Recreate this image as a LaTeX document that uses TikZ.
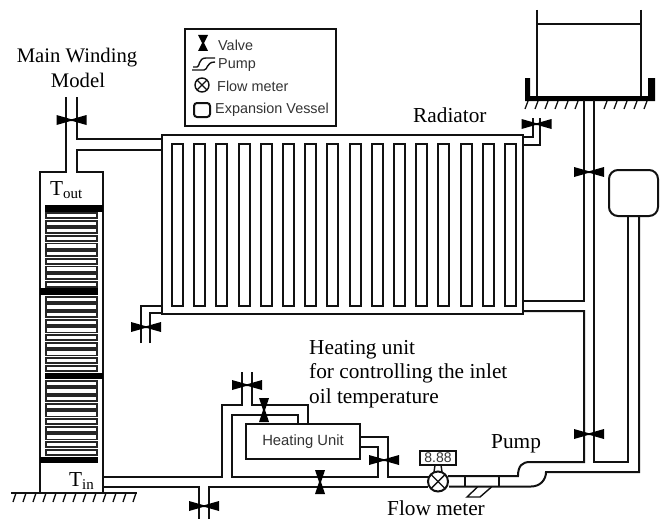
\documentclass[tikz,border=0pt]{standalone}
\usepackage{fontspec}
\setmainfont{Liberation Serif}
\setsansfont{Liberation Sans}
\usepackage{xcolor}
\usetikzlibrary{positioning}
\definecolor{pipecol}{HTML}{111111}
\definecolor{legendcol}{HTML}{333333}
\tikzset{
  pipe/.style={draw=pipecol, line width=2pt, line join=miter},
  thinpipe/.style={draw=pipecol, line width=1.4pt},
  bar/.style={fill=black, draw=none},
  disk/.style={draw=black!85, line width=1.9pt, fill=white},
  hatch/.style={draw=pipecol, line width=1.3pt},
  label/.style={font=\fontsize{21.3}{25}\selectfont, inner sep=0pt, anchor=base west},
  legendtext/.style={font=\sffamily\fontsize{14.4}{17}\selectfont, text=legendcol, inner sep=0pt, anchor=base west},
  valveh/.pic={\fill[black] (-15,-5) -- (-1,-1) -- (1,-1) -- (15,-5) -- (15,5) -- (1,1) -- (-1,1) -- (-15,5) -- cycle;},
  valvev/.pic={\fill[black] (-5,-12) -- (5,-12) -- (1,0) -- (5,12) -- (-5,12) -- (-1,0) -- cycle;},
}

\begin{document}
\begin{tikzpicture}[x=1pt,y=-1pt]
\useasboundingbox (0,0) rectangle (660,519);

% ===== Main winding =====
\draw[pipe] (66,97) -- (66,172) -- (40,172) -- (40,493);
\draw[pipe] (77,97) -- (77,139) -- (162,139);
\draw[pipe] (162,150) -- (77,150) -- (77,172) -- (103,172) -- (103,493);
\pic at (71.5,120) {valveh};

\foreach \ytop in {215.5,299.3,383.3}{
  \foreach \i in {0,...,9}{
    \draw[disk] (46,{\ytop+7.65*\i-2.6}) rectangle (97,{\ytop+7.65*\i+2.6});
  }
}
\fill[bar] (45,205) rectangle (103,212);
\fill[bar] (40,288) rectangle (98,295);
\fill[bar] (45,373) rectangle (103,379);
\fill[bar] (40,457) rectangle (98,463);

\node[label, anchor=base, font=\fontsize{20.7}{25}\selectfont] (winding) at (77,63) {Main Winding};
\node[label, anchor=base, font=\fontsize{20.7}{25}\selectfont] (model) at (78,87) {Model};
\node[label] (tout) at (50,195) {T\textsubscript{out}};
\node[label] (tin) at (69,486) {T\textsubscript{in}};

% ===== Ground =====
\draw[pipe] (11,493) -- (137,493);
\foreach \x in {16,26,...,136}{
  \draw[hatch] (\x,493) -- ++(-3,9);
}

% ===== Radiator =====
\draw[pipe] (162,135) rectangle (523,314);
\foreach \i in {0,...,15}{
  \draw[pipe] ({172+22.2*\i},306) rectangle ({183+22.2*\i},144);
}
\node[label] (radiator) at (413,122) {Radiator};

\draw[pipe] (141,343) -- (141,306) -- (162,306);
\draw[pipe] (150,343) -- (150,313) -- (162,313);
\pic at (146,327) {valveh};

\draw[pipe] (533,118) -- (533,137) -- (523,137);
\draw[pipe] (540,118) -- (540,145) -- (523,145);
\pic at (536.5,124) {valveh};

% ===== Tank and expansion vessel =====
\draw[thinpipe] (537,10) -- (537,96);
\draw[thinpipe] (641,10) -- (641,96);
\draw[thinpipe] (537,24) -- (641,24);
\fill[bar] (525,78) -- (530,78) -- (530,96) -- (648,96) -- (648,78) -- (655,78) -- (655,101) -- (525,101) -- cycle;
\foreach \x in {528,538,...,578,607,617,...,647}{
  \draw[hatch] (\x,101) -- ++(-3,8);
}

\draw[pipe] (584,100) -- (584,301) -- (523,301);
\draw[pipe] (523,311) -- (584,311) -- (584,462) -- (530,462)
  .. controls (522,462) and (518,466) .. (518,476) -- (448,476);
\draw[pipe] (594,100) -- (594,462) -- (628,462) -- (628,216);
\pic at (589,172) {valveh};
\pic at (589,434) {valveh};

\draw[pipe, rounded corners=9pt] (609,170) rectangle (658,216);
\draw[pipe] (639,216) -- (639,472) -- (546,472)
  .. controls (546,480) and (540,486.5) .. (531,486.5) -- (449,486.5);

% ===== Heating unit =====
\node[draw=pipecol, line width=2pt, minimum width=114pt, minimum height=35pt, inner sep=0pt,
  font=\sffamily\fontsize{14.8}{17}\selectfont, text=legendcol] (heater) at (303,441.5) {Heating Unit};

\draw[pipe] (103,477) -- (222,477) -- (222,405) -- (241.5,405) -- (241.5,372);
\draw[pipe] (251.5,372) -- (251.5,405) -- (308,405) -- (308,424);
\draw[pipe] (298,424) -- (298,415) -- (232,415) -- (232,477) -- (378,477) -- (378,447) -- (360,447);
\draw[pipe] (360,437) -- (388,437) -- (388,477) -- (429,477);
\draw[pipe] (103,487) -- (199,487) -- (199,519);
\draw[pipe] (209,519) -- (209,486.5) -- (428,486.5);

\pic at (247,385) {valveh};
\pic at (264,410) {valvev};
\pic at (320,482) {valvev};
\pic at (384,460) {valveh};
\pic at (204,506) {valveh};

\node[label] (heatlabel1) at (309,354) {Heating unit};
\node[label] (heatlabel2) at (309,378) {for controlling the inlet};
\node[label] (heatlabel3) at (309,403) {oil temperature};

% ===== Flow meter =====
\draw[pipe, fill=white] (438,481.5) circle (10);
\draw[thinpipe] (431,474.5) -- (445,488.5);
\draw[thinpipe] (431,488.5) -- (445,474.5);
\draw[thinpipe] (435,465) -- (434,472);
\draw[thinpipe] (441,465) -- (442,472);
\node[draw=pipecol, line width=2pt, minimum width=36pt, minimum height=14pt, inner sep=0pt,
  font=\sffamily\fontsize{14}{14}\selectfont, text=legendcol] (display) at (438,458) {8.88};
\node[label] (flowlabel) at (387,515) {Flow meter};

% ===== Pump =====
\draw[thinpipe] (465,476) -- (465,486.5);
\draw[pipe] (499,476) -- (499,486.5);
\draw[thinpipe] (478,486.5) -- (467,497) -- (480,497) -- (492,486.5);
\node[label] (pumplabel) at (491,448) {Pump};

% ===== Legend =====
\draw[pipe] (185,29) rectangle (336,126);
\fill[black] (198,35) -- (208,35) -- (204,43) -- (208,51) -- (198,51) -- (202,43) -- cycle;
\draw[thinpipe] (192,70) -- (204,70) .. controls (208,70) and (206,62) .. (215,62);
\draw[thinpipe] (193,67) -- (197,67) .. controls (200,67) and (198,58) .. (206,58) -- (215,58);
\draw[thinpipe] (202,85) circle (7);
\draw[thinpipe] (197,80) -- (207,90);
\draw[thinpipe] (197,90) -- (207,80);
\draw[pipe, rounded corners=3pt] (194,103) rectangle (210,117);
\node[legendtext] (legvalve) at (218,50) {Valve};
\node[legendtext] (legpump) at (218,68) {Pump};
\node[legendtext] (legflow) at (217,91) {Flow meter};
\node[legendtext] (legvessel) at (215,113) {Expansion Vessel};

\end{tikzpicture}
\end{document}
